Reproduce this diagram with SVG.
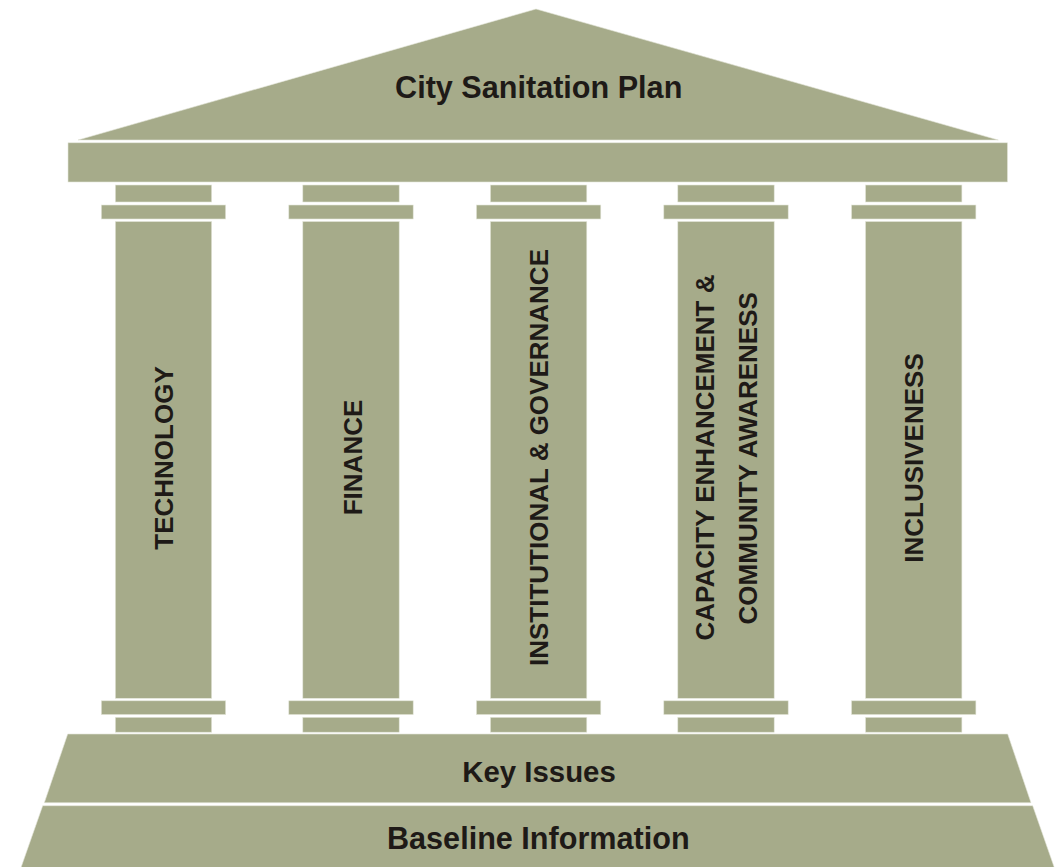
<svg xmlns="http://www.w3.org/2000/svg" width="1064" height="867" viewBox="0 0 1064 867">
<style>
.s{fill:#a6ab8a;stroke:#e4e6da;stroke-width:0.6}
.t{font-family:"Liberation Sans",Arial,sans-serif;font-weight:bold;fill:#1e1a17;text-anchor:middle}
.h{font-size:30.6px}
.v{font-size:26px}
</style>
<defs>
<g id="pillar">
<rect class="s" x="-48.2" y="185" width="96.4" height="17"/>
<rect class="s" x="-62.2" y="205" width="124.4" height="14"/>
<rect class="s" x="-48.2" y="221.5" width="96.4" height="476.8"/>
<rect class="s" x="-62.2" y="700.8" width="124.4" height="13.8"/>
<rect class="s" x="-48.2" y="717.3" width="96.4" height="14.9"/>
</g>
</defs>
<rect width="1064" height="867" fill="#ffffff"/>
<g id="roof">
<polygon class="s" points="78,140 536,9 998.3,140"/>
<text class="t h" x="538.7" y="97.7">City Sanitation Plan</text>
</g>
<g id="entablature">
<rect class="s" x="68" y="142.8" width="939.5" height="39.2"/>
</g>
<g id="pillar-technology">
<use href="#pillar" x="163.5"/>
<text class="t v" transform="translate(173.3,458) rotate(-90)">TECHNOLOGY</text>
</g>
<g id="pillar-finance">
<use href="#pillar" x="351"/>
<text class="t v" transform="translate(361.6,457.5) rotate(-90)">FINANCE</text>
</g>
<g id="pillar-institutional">
<use href="#pillar" x="538.6"/>
<text class="t v" transform="translate(548,457.5) rotate(-90)">INSTITUTIONAL &amp; GOVERNANCE</text>
</g>
<g id="pillar-capacity">
<use href="#pillar" x="726"/>
<text class="t v" transform="translate(714.3,457.5) rotate(-90)">CAPACITY ENHANCEMENT &amp;</text>
<text class="t v" transform="translate(756.7,458.3) rotate(-90)">COMMUNITY AWARENESS</text>
</g>
<g id="pillar-inclusiveness">
<use href="#pillar" x="913.7"/>
<text class="t v" transform="translate(923.3,458) rotate(-90)">INCLUSIVENESS</text>
</g>
<g id="key-issues">
<polygon class="s" points="67.7,734 1007.7,734 1031,802.7 44.3,802.7"/>
<text class="t h" x="539" y="782.3" style="font-size:29.4px">Key Issues</text>
</g>
<g id="baseline-information">
<polygon class="s" points="42.7,805.7 1032.7,805.7 1054.3,867.5 21,867.5"/>
<text class="t h" x="538.3" y="849">Baseline Information</text>
</g>
<g id="connectors"/>
</svg>
